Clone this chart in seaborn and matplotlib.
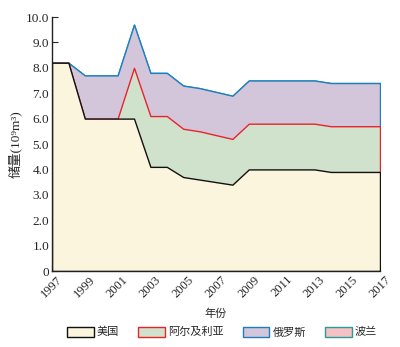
import numpy as np
import pandas as pd
import matplotlib
matplotlib.use("Agg")
import matplotlib.pyplot as plt
from matplotlib.patches import Patch
import seaborn as sns

years = list(range(1997, 2018))
usa = [8.2, 8.2, 6.0, 6.0, 6.0, 6.0, 4.1, 4.1, 3.7, 3.6, 3.5, 3.4, 4.0, 4.0, 4.0, 4.0, 4.0, 3.9, 3.9, 3.9, 3.9]
algeria = [0, 0, 0, 0, 0, 2.0, 2.0, 2.0, 1.9, 1.9, 1.85, 1.8, 1.8, 1.8, 1.8, 1.8, 1.8, 1.8, 1.8, 1.8, 1.8]
russia = [0, 0, 1.7, 1.7, 1.7, 1.7, 1.7, 1.7, 1.7, 1.7, 1.7, 1.7, 1.7, 1.7, 1.7, 1.7, 1.7, 1.7, 1.7, 1.7, 1.7]
poland = [0] * 21

names = ["美国", "阿尔及利亚", "俄罗斯", "波兰"]
fills = ["#faf5dc", "#d0e2cc", "#d3c6db", "#f4c2c4"]
edges = ["#111111", "#e8232b", "#1f7ec0", "#2a9a9a"]

df = pd.DataFrame({"year": years, names[0]: usa, names[1]: algeria,
                   names[2]: russia, names[3]: poland})

sns.set_style("ticks")
plt.rcParams["font.family"] = ["Liberation Serif", "Noto Sans CJK SC"]

fig = plt.figure(figsize=(4.0, 3.47), dpi=100)
ax = fig.add_axes([0.13, 0.219, 0.82, 0.732])

cum = df[names].cumsum(axis=1)
# draw from the top layer down so each layer's edge sits on top of the one above
for i in reversed(range(len(names))):
    ax.fill_between(df["year"], 0, cum[names[i]], facecolor=fills[i],
                    edgecolor=edges[i], linewidth=1.0)

ax.set_xlim(1997, 2017)
ax.set_ylim(0, 10)
ax.set_xticks(range(1997, 2018, 2))
ax.set_xticks(range(1997, 2018), minor=True)
ax.set_yticks(np.arange(0, 11, 1))
ax.set_yticklabels(["0"] + [f"{v:.1f}" for v in range(1, 11)], fontsize=9.5)
ax.set_xticklabels([str(y) for y in range(1997, 2018, 2)], rotation=45, fontsize=9)
ax.tick_params(axis="both", which="both", direction="in", length=4, width=0.8, pad=2)
sns.despine(ax=ax)
for s in ["left", "bottom"]:
    ax.spines[s].set_linewidth(1.0)
    ax.spines[s].set_color("#222222")

ax.set_xlabel("年份", fontsize=8, labelpad=6)
ax.set_ylabel("储量(10⁹m³)", fontsize=9.5, labelpad=3)

handles = [Patch(facecolor=f, edgecolor=e, linewidth=1.0) for f, e in zip(fills, edges)]
fig.legend(handles, names, loc="center", bbox_to_anchor=(0.555, 0.043), ncol=4,
           frameon=False, fontsize=8, handlelength=2.4, handleheight=1.0,
           columnspacing=1.7, handletextpad=0.3)

fig.savefig("out.png", dpi=100)
